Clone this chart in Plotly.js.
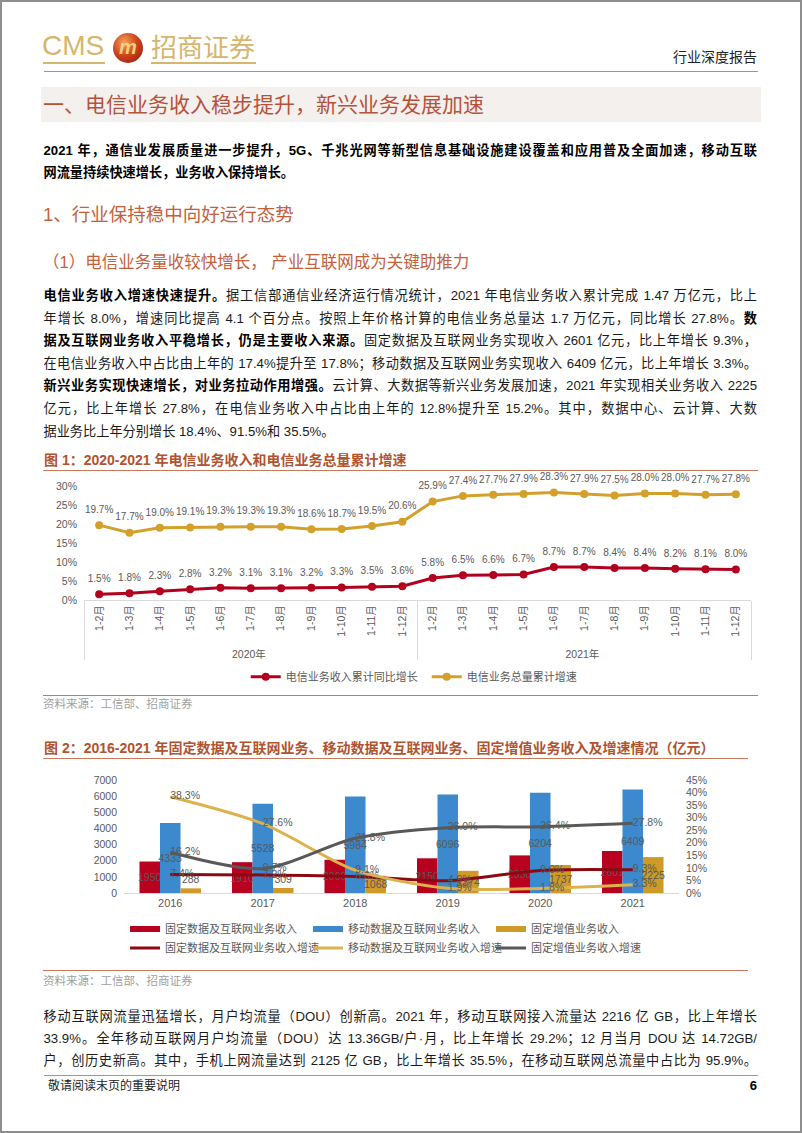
<!DOCTYPE html>
<html><head><meta charset="utf-8">
<script src="https://cdn.plot.ly/plotly-3.0.1.min.js"></script>
<style>
html,body{margin:0;padding:0;background:#fff;}
body{width:802px;height:1133px;position:relative;overflow:hidden;font-family:"Liberation Sans","Noto Sans CJK SC",sans-serif;}
.frame{position:absolute;left:0;top:0;width:802px;height:1133px;box-sizing:border-box;border:2px solid #8e8e8e;pointer-events:none;z-index:10;}
.abs{position:absolute;white-space:nowrap;}
.ln{position:absolute;left:43.5px;width:713.5px;height:22px;line-height:22px;font-size:13.2px;color:#1a1a1a;text-align:justify;text-align-last:justify;}
.ln.last{text-align-last:left;}
.ln b{color:#000;}
.hr{position:absolute;height:1px;}
.ctitle{position:absolute;left:44px;height:20px;line-height:20px;font-size:14px;font-weight:bold;color:#B0532F;white-space:nowrap;}
.src{position:absolute;left:43px;height:16px;line-height:16px;font-size:11.5px;color:#A0A0A0;white-space:nowrap;}
#c1{position:absolute;left:0;top:462px;width:802px;height:232px;}
#c2{position:absolute;left:0;top:770px;width:802px;height:190px;}
</style></head>
<body>
<div class="frame"></div>

<!-- header -->
<div class="abs" style="left:42px;top:30px;height:32px;line-height:32px;font-size:28px;color:#D6B56C;">CMS</div>
<div class="hr" style="left:43px;top:62px;width:62px;height:1.5px;background:#D6B56C;"></div>
<div class="abs" style="left:113px;top:33px;width:30px;height:30px;border-radius:50%;background:radial-gradient(circle at 38% 32%,#F4A35A 0%,#D0461E 45%,#8A1408 100%);"></div>
<div class="abs" style="left:113px;top:33px;width:30px;height:30px;line-height:28px;text-align:center;font-size:20px;font-weight:bold;font-style:italic;color:#F2D27A;">m</div>
<div class="abs" style="left:151px;top:30px;height:32px;line-height:32px;font-size:26px;color:#D6B56C;font-family:'Noto Sans CJK SC';">招商证券</div>
<div class="hr" style="left:151px;top:62px;width:105px;height:1.5px;background:#D6B56C;"></div>
<div class="abs" style="right:45px;top:48px;height:18px;line-height:18px;font-size:14px;color:#222;">行业深度报告</div>
<div class="hr" style="left:44px;top:71px;width:714px;background:#CF8468;"></div>

<div class="abs" style="left:41px;top:87px;width:720px;height:35px;background:#F4F0EE;"></div>
<div class="abs" style="left:43px;top:87px;height:35px;line-height:35px;font-size:21px;color:#B5523B;">一、电信业务收入稳步提升，新兴业务发展加速</div>

<div class="ln" style="top:140px;font-weight:bold;color:#000;">2021 年，通信业发展质量进一步提升，5G、千兆光网等新型信息基础设施建设覆盖和应用普及全面加速，移动互联</div>
<div class="ln last" style="top:162px;font-weight:bold;color:#000;">网流量持续快速增长，业务收入保持增长。</div>

<div class="abs" style="left:43px;top:200px;height:30px;line-height:30px;font-size:18.5px;color:#C4603C;">1、行业保持稳中向好运行态势</div>
<div class="abs" style="left:43px;top:248px;height:28px;line-height:28px;font-size:16.5px;color:#C4603C;">（1）电信业务量收较快增长， 产业互联网成为关键助推力</div>

<div class="ln" style="top:285px;"><b>电信业务收入增速快速提升。</b>据工信部通信业经济运行情况统计，2021 年电信业务收入累计完成 1.47 万亿元，比上</div>
<div class="ln" style="top:307.6px;">年增长 8.0%，增速同比提高 4.1 个百分点。按照上年价格计算的电信业务总量达 1.7 万亿元，同比增长 27.8%。<b>数</b></div>
<div class="ln" style="top:330.2px;"><b>据及互联网业务收入平稳增长，仍是主要收入来源。</b>固定数据及互联网业务实现收入 2601 亿元，比上年增长 9.3%，</div>
<div class="ln" style="top:352.8px;">在电信业务收入中占比由上年的 17.4%提升至 17.8%；移动数据及互联网业务实现收入 6409 亿元，比上年增长 3.3%。</div>
<div class="ln" style="top:375.4px;"><b>新兴业务实现快速增长，对业务拉动作用增强。</b>云计算、大数据等新兴业务发展加速，2021 年实现相关业务收入 2225</div>
<div class="ln" style="top:398px;">亿元，比上年增长 27.8%，在电信业务收入中占比由上年的 12.8%提升至 15.2%。其中，数据中心、云计算、大数</div>
<div class="ln last" style="top:420.6px;">据业务比上年分别增长 18.4%、91.5%和 35.5%。</div>

<!-- figure 1 -->
<div class="ctitle" style="top:450px;">图 1：2020-2021 年电信业务收入和电信业务总量累计增速</div>
<div class="hr" style="left:43px;top:470px;width:715px;background:#C8785A;"></div>
<div id="c1"></div>
<div class="hr" style="left:43px;top:695px;width:715px;background:#C8785A;"></div>
<div class="src" style="top:696px;">资料来源：工信部、招商证券</div>

<!-- figure 2 -->
<div class="ctitle" style="top:738px;">图 2：2016-2021 年固定数据及互联网业务、移动数据及互联网业务、固定增值业务收入及增速情况（亿元）</div>
<div class="hr" style="left:43px;top:758px;width:705px;background:#C8785A;"></div>
<div id="c2"></div>
<div class="hr" style="left:43px;top:970px;width:705px;background:#C8785A;"></div>
<div class="src" style="top:973px;">资料来源：工信部、招商证券</div>

<div class="ln" style="top:1006px;">移动互联网流量迅猛增长，月户均流量（DOU）创新高。2021 年，移动互联网接入流量达 2216 亿 GB，比上年增长</div>
<div class="ln" style="top:1028px;">33.9%。全年移动互联网月户均流量（DOU）达 13.36GB/户·月，比上年增长 29.2%；12 月当月 DOU 达 14.72GB/</div>
<div class="ln" style="top:1049.5px;">户，创历史新高。其中，手机上网流量达到 2125 亿 GB，比上年增长 35.5%，在移动互联网总流量中占比为 95.9%。</div>

<div class="hr" style="left:43.5px;top:1075px;width:714px;background:#9a9a9a;"></div>
<div class="abs" style="left:48px;top:1078px;height:16px;line-height:16px;font-size:12px;color:#222;">敬请阅读末页的重要说明</div>
<div class="abs" style="right:45px;top:1078px;height:16px;line-height:16px;font-size:13px;font-weight:bold;color:#000;">6</div>

<script>
// ---------- Figure 1 data ----------
const periods = ['1-2月','1-3月','1-4月','1-5月','1-6月','1-7月','1-8月','1-9月','1-10月','1-11月','1-12月'];
const yearGroups = ['2020年','2021年'];
const revGrowth2020 = [1.5,1.8,2.3,2.8,3.2,3.1,3.1,3.2,3.3,3.5,3.6];
const revGrowth2021 = [5.8,6.5,6.6,6.7,8.7,8.7,8.4,8.4,8.2,8.1,8.0];
const volGrowth2020 = [19.7,17.7,19.0,19.1,19.3,19.3,19.3,18.6,18.7,19.5,20.6];
const volGrowth2021 = [25.9,27.4,27.7,27.9,28.3,27.9,27.5,28.0,28.0,27.7,27.8];
const series1Names = ['电信业务收入累计同比增长','电信业务总量累计增速'];

// ---------- Figure 2 data ----------
const years2 = ['2016','2017','2018','2019','2020','2021'];
const fixedRev = [1950,1910,2060,2150,2330,2601];
const mobileRev = [4333,5528,5984,6096,6204,6409];
const valueAddRev = [288,309,1068,1374,1737,2225];
const fixedGrowth = [7.4,7.2,6.6,4.9,9.0,9.3];
const mobileGrowth = [38.3,27.6,9.1,1.9,1.8,3.3];
const valueAddGrowth = [16.2,9.7,21.8,26.0,26.4,27.8];
const barNames = ['固定数据及互联网业务收入','移动数据及互联网业务收入','固定增值业务收入'];
const lineNames = ['固定数据及互联网业务收入增速','移动数据及互联网业务收入增速','固定增值业务收入增速'];

const GRAY = '#595959';
const FONT = '"Liberation Sans","Noto Sans CJK SC",sans-serif';

// Figure 1
(function(){
  const outer = [], inner = [];
  yearGroups.forEach(g => periods.forEach(p => { outer.push(g); inner.push(p); }));
  const rev = revGrowth2020.concat(revGrowth2021);
  const vol = volGrowth2020.concat(volGrowth2021);
  const pct = a => a.map(v => v.toFixed(1) + '%');
  const series = [[rev, series1Names[0], '#B3001E'], [vol, series1Names[1], '#D4A02C']];
  const data = [];
  series.forEach(([y, name, color]) => {
    data.push({type:'scatter', mode:'lines+markers', x:[outer, inner], y:y, name:name,
      line:{color:color, width:3}, marker:{color:color, size:8}, cliponaxis:false, hoverinfo:'skip'});
  });
  // value labels (invisible wider marker gives the label gap above the point)
  series.forEach(([y, name, color]) => {
    data.push({type:'scatter', mode:'markers+text', x:[outer, inner], y:y, name:name, showlegend:false,
      text:pct(y), textposition:'top center', textfont:{size:10, color:GRAY, family:FONT},
      marker:{size:14, opacity:0}, cliponaxis:false, hoverinfo:'skip'});
  });
  const layout = {
    width:802, height:232, paper_bgcolor:'rgba(0,0,0,0)', plot_bgcolor:'rgba(0,0,0,0)',
    margin:{l:84, r:51, t:24, b:94, autoexpand:false},
    font:{family:FONT, color:GRAY},
    xaxis:{type:'multicategory', range:[-0.5, 21.5], tickangle:-90, tickfont:{size:10.5, color:GRAY},
      showdividers:true, dividercolor:'#D9D9D9', dividerwidth:1,
      showline:true, linecolor:'#D9D9D9', linewidth:1, showgrid:false, zeroline:false},
    yaxis:{range:[0,30], dtick:5, ticksuffix:'%', tickfont:{size:10.5, color:GRAY},
      showgrid:false, zeroline:false, showline:false, ticklabelstandoff:6},
    showlegend:true,
    legend:{orientation:'h', xref:'container', yref:'container', x:0.3064, xanchor:'left',
      y:0.0746, yanchor:'middle', entrywidth:136, entrywidthmode:'pixels',
      font:{size:11, color:GRAY}, bgcolor:'rgba(0,0,0,0)'}
  };
  Plotly.newPlot('c1', data, layout, {displayModeBar:false, staticPlot:true});
})();

// Figure 2
(function(){
  const barColors = ['#B8001F','#3C89CD','#CF9A28'];
  const lineColors = ['#8B0A12','#DDB24C','#595959'];
  const barVals = [fixedRev, mobileRev, valueAddRev];
  const lineVals = [fixedGrowth, mobileGrowth, valueAddGrowth];
  const data = [];
  barVals.forEach((v,i) => {
    data.push({type:'bar', x:years2, y:v, name:barNames[i], showlegend:false,
      marker:{color:barColors[i]}, text:v.map(String),
      textposition: v.map(val => val < 600 ? 'outside' : 'inside'),
      insidetextanchor:'middle', constraintext:'none', textangle:0,
      textfont:{size:10.5, color:GRAY, family:FONT}, cliponaxis:false, hoverinfo:'skip'});
  });
  // legend entries for the bars (row 1)
  barVals.forEach((v,i) => {
    data.push({type:'scatter', mode:'lines', x:[null], y:[null], name:barNames[i],
      line:{color:barColors[i], width:6}, legend:'legend', hoverinfo:'skip'});
  });
  lineVals.forEach((v,i) => {
    data.push({type:'scatter', mode:'lines+text', x:years2, y:v, yaxis:'y2', name:lineNames[i],
      line:{color:lineColors[i], width:3, shape:'spline', smoothing:0.8},
      text:v.map(val => val.toFixed(1) + '%'), textposition:'middle right',
      textfont:{size:10.5, color:GRAY, family:FONT}, legend:'legend2', cliponaxis:false, hoverinfo:'skip'});
  });
  const legCommon = {orientation:'h', xref:'container', yref:'container', x:0.1559, xanchor:'left',
      yanchor:'middle', entrywidth:138, entrywidthmode:'pixels', font:{size:11, color:GRAY}, bgcolor:'rgba(0,0,0,0)'};
  const layout = {
    width:802, height:190, paper_bgcolor:'rgba(0,0,0,0)', plot_bgcolor:'rgba(0,0,0,0)',
    margin:{l:124, r:123, t:10, b:67, autoexpand:false},
    font:{family:FONT, color:GRAY},
    barmode:'group', bargap:0.335, bargroupgap:0,
    xaxis:{type:'category', range:[-0.5, 5.5], tickfont:{size:11, color:GRAY}, showline:true, linecolor:'#D9D9D9',
      linewidth:1, showgrid:false, zeroline:false},
    yaxis:{range:[0,7000], dtick:1000, tickfont:{size:10.5, color:GRAY}, showgrid:false,
      zeroline:false, showline:false, ticklabelstandoff:6},
    yaxis2:{overlaying:'y', side:'right', range:[0,45], dtick:5, ticksuffix:'%',
      tickfont:{size:10.5, color:GRAY}, showgrid:false, zeroline:false, showline:false, ticklabelstandoff:6},
    showlegend:true,
    legend:Object.assign({y:0.163}, legCommon),
    legend2:Object.assign({y:0.063}, legCommon)
  };
  Plotly.newPlot('c2', data, layout, {displayModeBar:false, staticPlot:true});
})();
</script>
</body></html>
